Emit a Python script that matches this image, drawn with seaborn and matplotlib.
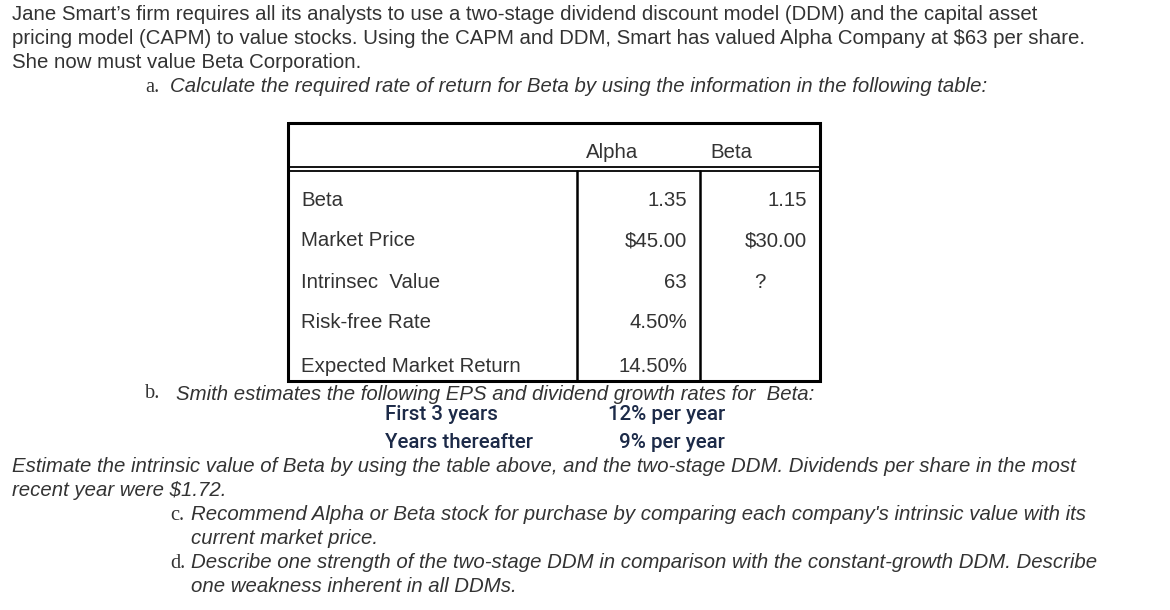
import matplotlib
matplotlib.use('Agg')
import matplotlib.pyplot as plt
import seaborn as sns

# Text of the problem
intro_lines = [
    "Jane Smart\u2019s firm requires all its analysts to use a two-stage dividend discount model (DDM) and the capital asset",
    "pricing model (CAPM) to value stocks. Using the CAPM and DDM, Smart has valued Alpha Company at $63 per share.",
    "She now must value Beta Corporation.",
]
part_a = "Calculate the required rate of return for Beta by using the information in the following table:"
part_b = "Smith estimates the following EPS and dividend growth rates for  Beta:"
part_b_rest = [
    "Estimate the intrinsic value of Beta by using the table above, and the two-stage DDM. Dividends per share in the most",
    "recent year were $1.72.",
]
part_c = ["Recommend Alpha or Beta stock for purchase by comparing each company's intrinsic value with its",
          "current market price."]
part_d = ["Describe one strength of the two-stage DDM in comparison with the constant-growth DDM. Describe",
          "one weakness inherent in all DDMs."]

# Table data
companies = ["Alpha", "Beta"]
row_labels = ["Beta", "Market Price", "Intrinsec  Value", "Risk-free Rate", "Expected Market Return"]
alpha_vals = ["1.35", "$45.00", "63", "4.50%", "14.50%"]
beta_vals = ["1.15", "$30.00", "?", "", ""]

# Growth rates
growth_periods = ["First 3 years", "Years thereafter"]
growth_rates = ["12% per year", "9% per year"]

sns.set_style("white")
plt.rcParams['font.family'] = ['Liberation Sans', 'DejaVu Sans']

fig = plt.figure(figsize=(11.7, 6.1), dpi=100)
ax = fig.add_axes([0, 0, 1, 1])
ax.set_xlim(0, 1170)
ax.set_ylim(610, 0)
ax.axis('off')

txt = '#333333'
fs = 14.7

y = 15
for line in intro_lines:
    ax.text(12, y, line, fontsize=fs, color=txt, va='center')
    y += 23.5

ax.text(145, 87, "a.", fontsize=fs, color=txt, va='center', family='Liberation Serif')
ax.text(170, 87, part_a, fontsize=fs, color=txt, va='center', style='italic')

# table frame
ax.plot([288, 820, 820, 288, 288], [123, 123, 381, 381, 123], color='black', lw=2.2,
        solid_joinstyle='miter')
ax.plot([288, 820], [167, 167], color='black', lw=1.3)
ax.plot([288, 820], [171, 171], color='black', lw=1.3)
ax.plot([577, 577], [171, 381], color='black', lw=1.8)
ax.plot([700, 700], [171, 381], color='black', lw=1.8)

ax.text(612, 153, companies[0], fontsize=fs, color=txt, va='center', ha='center')
ax.text(731, 153, companies[1], fontsize=fs, color=txt, va='center', ha='center')

row_y = [200, 241, 282, 323, 367]
for lab, av, bv, ry in zip(row_labels, alpha_vals, beta_vals, row_y):
    ax.text(301, ry, lab, fontsize=fs, color=txt, va='center')
    ax.text(687, ry, av, fontsize=fs, color=txt, va='center', ha='right')
    if bv == "?":
        ax.text(760, ry, bv, fontsize=fs, color=txt, va='center', ha='center')
    elif bv:
        ax.text(807, ry, bv, fontsize=fs, color=txt, va='center', ha='right')

ax.text(145, 394, "b.", fontsize=fs, color=txt, va='center', family='Liberation Serif')
ax.text(176, 394, part_b, fontsize=fs, color=txt, va='center', style='italic')

blue = '#1c2a48'
for per, rate, gy in zip(growth_periods, growth_rates, [414, 442]):
    ax.text(385, gy, per, fontsize=14.8, color=blue, va='center', family='Roboto',
            fontweight='medium')
    ax.text(725, gy, rate, fontsize=14.8, color=blue, va='center', ha='right', family='Roboto',
            fontweight='medium')

y = 467
for line in part_b_rest:
    ax.text(12, y, line, fontsize=fs, color=txt, va='center', style='italic')
    y += 24

for letter, lines, y0 in [("c.", part_c, 515), ("d.", part_d, 563)]:
    ax.text(170, y0, letter, fontsize=fs, color=txt, va='center', family='Liberation Serif')
    for i, line in enumerate(lines):
        ax.text(191, y0 + 24 * i, line, fontsize=fs, color=txt, va='center', style='italic')

fig.savefig('out.png', dpi=100, facecolor='white')
